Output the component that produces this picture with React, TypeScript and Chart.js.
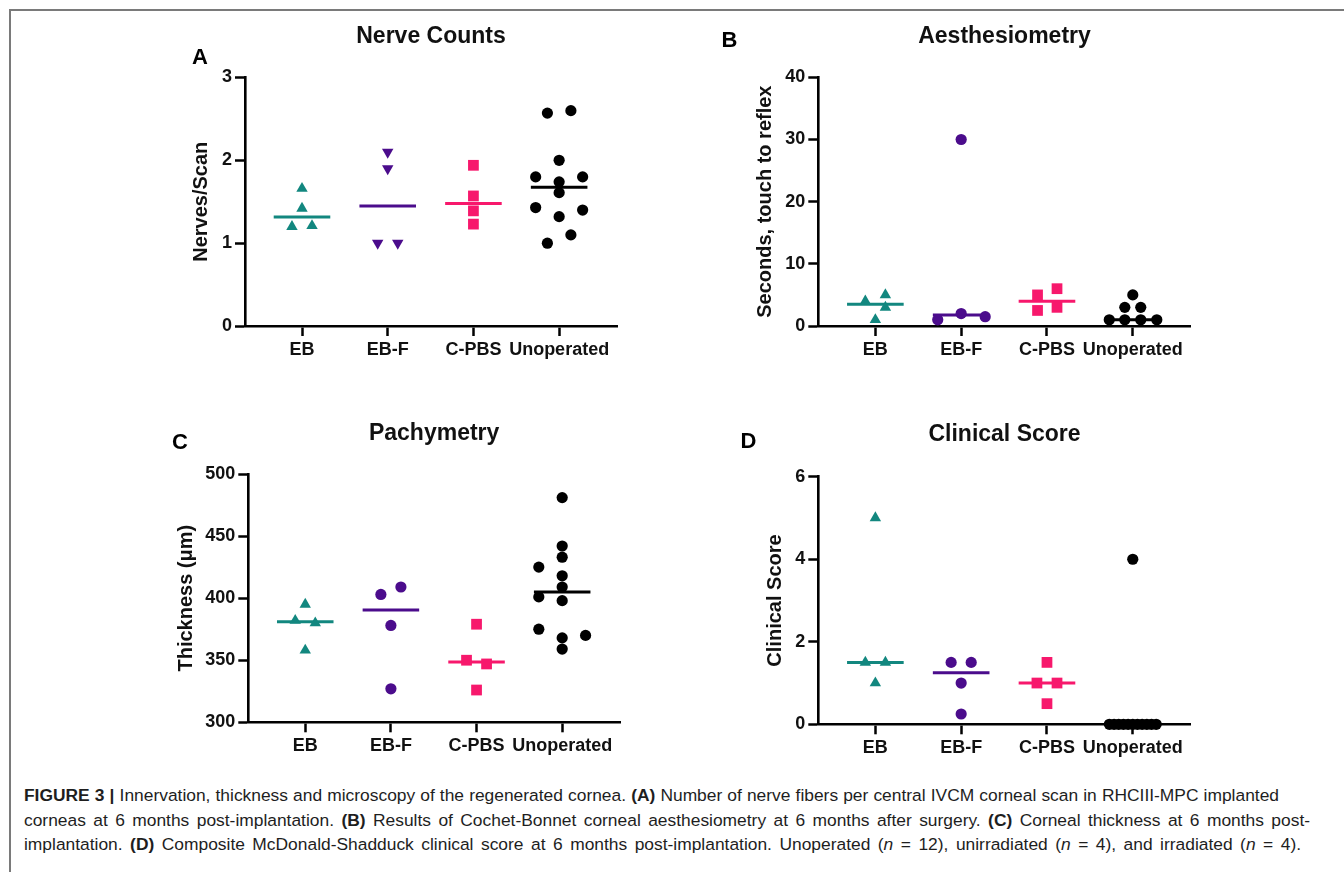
import React, { useEffect, useRef } from "react";
import { Chart, registerables } from "chart.js";

Chart.register(...registerables);

// ---------- data ----------
const CATEGORIES = ["EB", "EB-F", "C-PBS", "Unoperated"];

// Panel A: Nerve Counts (Nerves/Scan)
const nerveEB = [1.66, 1.42, 1.2, 1.21];
const nerveEBF = [2.1, 1.9, 1.0, 1.0];
const nerveCPBS = [1.94, 1.57, 1.39, 1.23];
const nerveUnop = [2.57, 2.6, 2.0, 1.8, 1.8, 1.74, 1.61, 1.43, 1.4, 1.32, 1.1, 1.0];

// Panel B: Aesthesiometry (seconds, touch to reflex)
const aesthEB = [4, 5, 3, 1];
const aesthEBF = [30, 2, 1.5, 1];
const aesthCPBS = [5, 6, 2.5, 3];
const aesthUnop = [5, 3, 3, 1, 1, 1, 1];

// Panel C: Pachymetry (thickness, µm)
const pachyEB = [395, 382, 380, 358];
const pachyEBF = [403, 409, 378, 327];
const pachyCPBS = [379, 350, 347, 326];
const pachyUnop = [481, 442, 433, 425, 418, 409, 401, 398, 375, 370, 368, 359];

// Panel D: Clinical Score
const clinEB = [5, 1.5, 1.5, 1];
const clinEBF = [1.5, 1.5, 1, 0.25];
const clinCPBS = [1.5, 1, 1, 0.5];
const clinUnop = [4, 0, 0, 0, 0, 0, 0, 0, 0, 0, 0, 0];

// Axis tick ranges
const nerveTicks = { min: 0, max: 3, step: 1 };
const aesthTicks = { min: 0, max: 40, step: 10 };
const pachyTicks = { min: 300, max: 500, step: 50 };
const clinTicks = { min: 0, max: 6, step: 2 };

// ---------- column scatter layout (horizontal spread within each column) ----------
const nerveEBJit = [0, 0, -0.117, 0.117];
const nerveEBFJit = [0, 0, -0.117, 0.117];
const nerveCPBSJit = [0, 0, 0, 0];
const nerveUnopJit = [-0.137, 0.137, 0, -0.274, 0.274, 0, 0, -0.274, 0.274, 0, 0.137, -0.137];

const aesthEBJit = [-0.117, 0.117, 0.117, 0];
const aesthEBFJit = [0, 0, 0.28, -0.273];
const aesthCPBSJit = [-0.11, 0.117, -0.11, 0.117];
const aesthUnopJit = [0, -0.093, 0.093, -0.274, -0.093, 0.093, 0.28];

const pachyEBJit = [0, -0.117, 0.117, 0];
const pachyEBFJit = [-0.117, 0.117, 0, 0];
const pachyCPBSJit = [0, -0.117, 0.117, 0];
const pachyUnopJit = [0, 0, 0, -0.273, 0, 0, -0.273, 0, -0.273, 0.273, 0, 0];

const clinEBJit = [0, -0.117, 0.117, 0];
const clinEBFJit = [-0.117, 0.117, 0, 0];
const clinCPBSJit = [0, -0.117, 0.117, 0];
const clinUnopJit = [0, -0.273, -0.218, -0.164, -0.109, -0.0545, 0, 0.0545, 0.109, 0.164, 0.218, 0.273];

// ---------- styles ----------
const TEAL = "#12877f";
const PURPLE = "#4b0c8c";
const PINK = "#f7186c";
const BLACK = "#000000";
const FONT = "'Liberation Sans', Arial, Helvetica, sans-serif";
const TEXT = "#111111";

const TRI = { style: "triangle", rotation: 0, radius: 6.6 };
const TRI_DOWN = { style: "triangle", rotation: 180, radius: 6.6 };
const SQUARE = { style: "rect", rotation: 0, radius: 7.6 };
const DOT = { style: "circle", rotation: 0, radius: 5.6 };

function median(a: number[]) {
  const s = [...a].sort((x, y) => x - y);
  const n = s.length;
  return n % 2 ? s[(n - 1) / 2] : (s[n / 2 - 1] + s[n / 2]) / 2;
}

type Group = { values: number[]; jitter: number[]; color: string; marker: any };
type Geo = {
  L: number; T: number; W: number; H: number;
  AX: number; AR: number; AT: number; AB: number;
  TY: number; YTX: number;
};
type Spec = {
  title: string; yTitle: string; ticks: { min: number; max: number; step: number };
  groups: Group[]; geo: Geo;
};

const TITLE_SIZE = 23;
const YTITLE_SIZE = 20;
const TICK_SIZE = 18;
const X_AXIS_H = 40;
const X_MIN = 0.335;
const X_MAX = 4.675;
const MEDIAN_HALF = 0.33;

function PanelChart({ spec }: { spec: Spec }) {
  const ref = useRef<HTMLCanvasElement>(null);
  const g = spec.geo;
  useEffect(() => {
    if (!ref.current) return;
    const datasets: any[] = [];
    spec.groups.forEach((grp, i) => {
      const cx = i + 1;
      datasets.push({
        data: grp.values.map((v, k) => ({ x: cx + grp.jitter[k], y: v })),
        pointStyle: grp.marker.style,
        pointRotation: grp.marker.rotation,
        pointRadius: grp.marker.radius,
        pointHoverRadius: grp.marker.radius,
        pointBackgroundColor: grp.color,
        pointBorderColor: grp.color,
        pointBorderWidth: 0,
        showLine: false,
        clip: false,
      });
    });
    spec.groups.forEach((grp, i) => {
      const m = median(grp.values);
      datasets.push({
        data: [
          { x: i + 1 - MEDIAN_HALF, y: m },
          { x: i + 1 + MEDIAN_HALF, y: m },
        ],
        showLine: true,
        borderColor: grp.color,
        borderWidth: 3,
        pointRadius: 0,
        pointHoverRadius: 0,
        clip: false,
      });
    });

    const titleLH = TITLE_SIZE * 1.2;
    const tPadTop = g.TY - g.T - titleLH / 2;
    const tPadBottom = g.AT - g.T - tPadTop - titleLH;
    const yTitleLH = YTITLE_SIZE * 1.2;
    const padLeft = g.YTX - g.L - 4 - yTitleLH / 2;
    const yWidth = g.AX - g.L - padLeft;
    const padRight = g.L + g.W - g.AR;
    const padBottom = g.T + g.H - g.AB - X_AXIS_H;

    const gridOpts = {
      display: true,
      drawOnChartArea: false,
      drawTicks: true,
      tickLength: 10,
      tickWidth: 2.5,
      color: "#000",
    };
    const borderOpts = { display: true, color: "#000", width: 2.6 };

    const chart = new Chart(ref.current, {
      type: "scatter",
      data: { datasets },
      options: {
        responsive: false,
        animation: false,
        events: [],
        layout: { padding: { left: padLeft, right: padRight, top: 0, bottom: padBottom } },
        plugins: {
          legend: { display: false },
          tooltip: { enabled: false },
          title: {
            display: true,
            text: spec.title,
            fullSize: false,
            color: TEXT,
            font: { family: FONT, size: TITLE_SIZE, weight: "bold", lineHeight: 1.2 },
            padding: { top: tPadTop, bottom: tPadBottom },
          },
        },
        scales: {
          x: {
            type: "linear",
            min: X_MIN,
            max: X_MAX,
            afterBuildTicks: (s: any) => {
              s.ticks = CATEGORIES.map((_, i) => ({ value: i + 1 }));
            },
            afterFit: (s: any) => {
              s.height = X_AXIS_H;
            },
            ticks: {
              autoSkip: false,
              maxRotation: 0,
              minRotation: 0,
              padding: 3,
              color: TEXT,
              font: { family: FONT, size: TICK_SIZE, weight: "bold" },
              callback: (v: any) => CATEGORIES[Math.round(Number(v)) - 1] ?? "",
            },
            grid: gridOpts,
            border: borderOpts,
          },
          y: {
            type: "linear",
            min: spec.ticks.min,
            max: spec.ticks.max,
            afterFit: (s: any) => {
              s.width = yWidth;
            },
            ticks: {
              stepSize: spec.ticks.step,
              padding: 3,
              color: TEXT,
              font: { family: FONT, size: TICK_SIZE, weight: "bold" },
            },
            title: {
              display: true,
              text: spec.yTitle,
              color: TEXT,
              font: { family: FONT, size: YTITLE_SIZE, weight: "bold", lineHeight: 1.2 },
              padding: { top: 4, bottom: 4 },
            },
            grid: gridOpts,
            border: borderOpts,
          },
        },
      } as any,
    });
    return () => chart.destroy();
  }, [spec]);
  return (
    <canvas
      ref={ref}
      width={g.W}
      height={g.H}
      style={{ position: "absolute", left: g.L, top: g.T, width: g.W, height: g.H }}
    />
  );
}

const specA: Spec = {
  title: "Nerve Counts",
  yTitle: "Nerves/Scan",
  ticks: nerveTicks,
  groups: [
    { values: nerveEB, jitter: nerveEBJit, color: TEAL, marker: TRI },
    { values: nerveEBF, jitter: nerveEBFJit, color: PURPLE, marker: TRI_DOWN },
    { values: nerveCPBS, jitter: nerveCPBSJit, color: PINK, marker: SQUARE },
    { values: nerveUnop, jitter: nerveUnopJit, color: BLACK, marker: DOT },
  ],
  geo: { L: 140, T: 12, W: 500, H: 370, AX: 245, AR: 617, AT: 77.5, AB: 326, TY: 36.7, YTX: 201.7 },
};

const specB: Spec = {
  title: "Aesthesiometry",
  yTitle: "Seconds, touch to reflex",
  ticks: aesthTicks,
  groups: [
    { values: aesthEB, jitter: aesthEBJit, color: TEAL, marker: TRI },
    { values: aesthEBF, jitter: aesthEBFJit, color: PURPLE, marker: DOT },
    { values: aesthCPBS, jitter: aesthCPBSJit, color: PINK, marker: SQUARE },
    { values: aesthUnop, jitter: aesthUnopJit, color: BLACK, marker: DOT },
  ],
  geo: { L: 710, T: 12, W: 500, H: 370, AX: 818.3, AR: 1190.7, AT: 77.3, AB: 326, TY: 36.8, YTX: 765 },
};

const specC: Spec = {
  title: "Pachymetry",
  yTitle: "Thickness (\u03bcm)",
  ticks: pachyTicks,
  groups: [
    { values: pachyEB, jitter: pachyEBJit, color: TEAL, marker: TRI },
    { values: pachyEBF, jitter: pachyEBFJit, color: PURPLE, marker: DOT },
    { values: pachyCPBS, jitter: pachyCPBSJit, color: PINK, marker: SQUARE },
    { values: pachyUnop, jitter: pachyUnopJit, color: BLACK, marker: DOT },
  ],
  geo: { L: 140, T: 405, W: 500, H: 370, AX: 248.3, AR: 620, AT: 474, AB: 722.3, TY: 433.5, YTX: 186.5 },
};

const specD: Spec = {
  title: "Clinical Score",
  yTitle: "Clinical Score",
  ticks: clinTicks,
  groups: [
    { values: clinEB, jitter: clinEBJit, color: TEAL, marker: TRI },
    { values: clinEBF, jitter: clinEBFJit, color: PURPLE, marker: DOT },
    { values: clinCPBS, jitter: clinCPBSJit, color: PINK, marker: SQUARE },
    { values: clinUnop, jitter: clinUnopJit, color: BLACK, marker: DOT },
  ],
  geo: { L: 710, T: 405, W: 500, H: 370, AX: 818.3, AR: 1190.7, AT: 476.7, AB: 724.3, TY: 435, YTX: 775.5 },
};

const PANEL_LETTERS = [
  { text: "A", cx: 200, cy: 56.7 },
  { text: "B", cx: 729.5, cy: 40 },
  { text: "C", cx: 180, cy: 441.7 },
  { text: "D", cx: 748.5, cy: 440.7 },
];

const CAPTION_LINES: React.ReactNode[] = [
  <>
    <b>FIGURE 3 | </b>Innervation, thickness and microscopy of the regenerated cornea. <b>(A)</b> Number of nerve
    fibers per central IVCM corneal scan in RHCIII-MPC implanted
  </>,
  <>
    corneas at 6 months post-implantation. <b>(B)</b> Results of Cochet-Bonnet corneal aesthesiometry at 6 months
    after surgery. <b>(C)</b> Corneal thickness at 6 months post-
  </>,
  <>
    implantation. <b>(D)</b> Composite McDonald-Shadduck clinical score at 6 months post-implantation. Unoperated (
    <i>n</i> = 12), unirradiated (<i>n</i> = 4), and irradiated (<i>n</i> = 4).
  </>,
];
// right ends of the caption lines
const CAPTION_LINE_ENDS = [1279, 1310, 1301];
const CAPTION_LEFT = 24;

export default function App() {
  const LETTER = 22;
  return (
    <div
      style={{
        position: "absolute",
        left: 0,
        top: 0,
        width: 1344,
        height: 872,
        overflow: "hidden",
        background: "#fff",
        fontFamily: FONT,
      }}
    >
      <div
        style={{
          position: "absolute",
          left: 9,
          top: 9,
          width: 1400,
          height: 900,
          borderTop: "2px solid #7a7a7a",
          borderLeft: "2px solid #7a7a7a",
        }}
      />
      <PanelChart spec={specA} />
      <PanelChart spec={specB} />
      <PanelChart spec={specC} />
      <PanelChart spec={specD} />
      {PANEL_LETTERS.map((l) => (
        <div
          key={l.text}
          style={{
            position: "absolute",
            left: l.cx,
            top: l.cy - 0.4885 * LETTER,
            transform: "translateX(-50%)",
            fontSize: LETTER,
            lineHeight: `${LETTER}px`,
            fontWeight: "bold",
            color: "#000",
          }}
        >
          {l.text}
        </div>
      ))}
      <div
        style={{
          position: "absolute",
          left: CAPTION_LEFT,
          top: 783,
          fontSize: 17.4,
          lineHeight: "24.65px",
          color: "#1e1e1e",
        }}
      >
        {CAPTION_LINES.map((ln, i) => (
          <div
            key={i}
            style={{
              width: CAPTION_LINE_ENDS[i] - CAPTION_LEFT,
              textAlign: "justify",
              textAlignLast: "justify",
              whiteSpace: "normal",
              height: "24.65px",
              overflow: "visible",
            }}
          >
            {ln}
          </div>
        ))}
      </div>
    </div>
  );
}
